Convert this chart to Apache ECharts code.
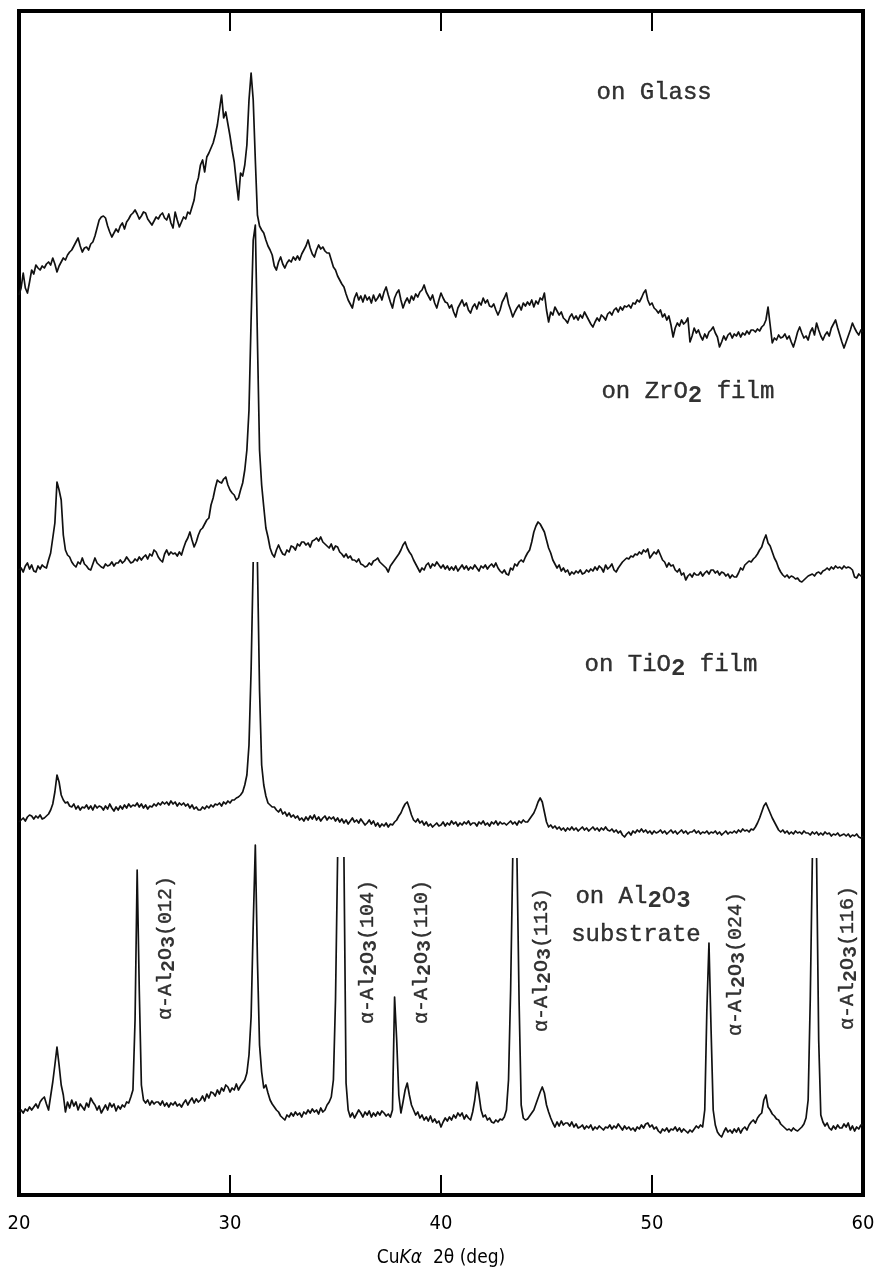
<!DOCTYPE html>
<html>
<head>
<meta charset="utf-8">
<script src="https://cdn.jsdelivr.net/npm/echarts@6/dist/echarts.min.js"></script>
<style>
  html, body { margin: 0; padding: 0; background: #fff; }
  #chart { width: 879px; height: 1269px; }
</style>
</head>
<body>
<div id="chart"></div>
<script>
// X-ray diffraction scans (Cu Kα), 2θ = 20°…60° in 0.1° steps.
// Each scan holds the intensity above its own baseline; '-' marks a pen lift
// where the recorder went off scale on a strong reflection.

const scanStart = 20;
const scanStep = 0.1;
const xTicks = [20, 30, 40, 50, 60];

const glass = [
  55, 62, 77, 62, 57, 68, 80, 76, 85, 82,
  80, 84, 82, 86, 88, 85, 92, 86, 78, 84,
  88, 92, 90, 95, 98, 100, 104, 108, 112, 104,
  98, 102, 103, 100, 106, 108, 114, 122, 130, 133,
  134, 132, 124, 118, 113, 117, 121, 118, 124, 127,
  121, 128, 131, 135, 137, 140, 136, 131, 134, 138,
  137, 131, 128, 125, 129, 133, 131, 135, 137, 132,
  130, 136, 127, 122, 138, 130, 123, 128, 133, 131,
  138, 136, 143, 150, 165, 172, 185, 190, 178, 193,
  197, 202, 207, 215, 225, 240, 255, 232, 238, 226,
  214, 200, 188, 168, 150, 177, 174, 185, 205, 250,
  277, 250, 190, 135, 124, 120, 117, 110, 104, 100,
  95, 84, 80, 88, 93, 86, 82, 87, 90, 88,
  93, 90, 94, 90, 96, 100, 104, 110, 102, 96,
  93, 100, 105, 101, 103, 99, 97, 97, 90, 83,
  80, 74, 70, 66, 63, 56, 50, 46, 42, 52,
  57, 50, 54, 48, 55, 50, 53, 47, 55, 49,
  52, 56, 50, 58, 63, 55, 48, 42, 52, 57,
  60, 50, 42, 48, 52, 47, 54, 50, 56, 53,
  58, 60, 65, 58, 54, 50, 55, 47, 42, 50,
  57, 52, 48, 47, 42, 45, 38, 33, 42, 46,
  50, 44, 47, 40, 37, 43, 46, 41, 48, 45,
  52, 47, 50, 44, 43, 46, 40, 35, 40, 48,
  52, 57, 46, 40, 33, 38, 42, 45, 40, 47,
  44, 48, 45, 50, 43, 49, 46, 52, 50, 57,
  40, 28, 38, 35, 43, 39, 35, 38, 32, 30,
  27, 33, 36, 31, 34, 30, 35, 32, 38, 34,
  30, 26, 23, 28, 32, 29, 35, 33, 30, 36,
  38, 35, 40, 42, 38, 43, 40, 44, 43, 45,
  42, 47, 46, 50, 48, 52, 57, 60, 50, 45,
  47, 42, 40, 37, 40, 33, 36, 30, 34, 25,
  13, 22, 27, 24, 30, 26, 28, 32, 8, 14,
  22, 17, 20, 14, 10, 16, 12, 18, 20, 23,
  17, 13, 3, 8, 14, 10, 15, 17, 12, 16,
  14, 18, 13, 17, 15, 19, 16, 20, 20, 18,
  21, 19, 23, 25, 30, 43, 25, 7, 12, 10,
  15, 12, 13, 16, 11, 14, 8, 3, 10, 18,
  23, 17, 12, 14, 10, 18, 22, 15, 27, 20,
  14, 10, 15, 18, 14, 22, 26, 30, 22, 15,
  8, 2, 8, 14, 20, 27, 22, 18, 15, 20,
  18
];

const zro2 = [
  20, 22, 18, 24, 27, 21, 25, 19, 18, 24,
  21, 25, 23, 22, 30, 37, 52, 67, 108, 100,
  90, 55, 40, 35, 33, 28, 25, 23, 28, 26,
  32, 26, 24, 21, 20, 26, 32, 27, 25, 23,
  22, 26, 24, 25, 28, 24, 27, 27, 30, 27,
  29, 33, 30, 27, 28, 31, 29, 33, 30, 33,
  35, 31, 36, 34, 40, 38, 33, 30, 28, 36,
  40, 35, 38, 36, 37, 34, 38, 35, 42, 48,
  52, 58, 50, 43, 48, 55, 60, 62, 66, 70,
  72, 85, 92, 102, 110, 108, 107, 111, 113, 105,
  100, 97, 95, 90, 92, 100, 107, 120, 140, 180,
  270, 350, 365, 250, 140, 105, 83, 62, 53, 42,
  36, 33, 40, 45, 40, 36, 35, 40, 38, 44,
  43, 40, 46, 44, 48, 48, 45, 47, 43, 49,
  50, 52, 49, 53, 48, 46, 44, 42, 46, 40,
  44, 43, 38, 36, 33, 36, 32, 34, 30, 30,
  28, 31, 26, 25, 23, 24, 27, 25, 29, 30,
  32, 28, 26, 24, 22, 18, 24, 27, 30, 33,
  36, 40, 45, 48, 42, 38, 35, 30, 26, 22,
  18, 22, 20, 25, 27, 22, 26, 24, 28, 25,
  22, 25, 21, 24, 20, 23, 20, 24, 19, 22,
  25, 21, 24, 20, 23, 21, 25, 22, 19, 24,
  22, 25, 21, 24, 26, 23, 27, 22, 19, 17,
  20, 16, 15, 22, 20, 26, 24, 28, 30, 28,
  33, 37, 40, 48, 58, 64, 68, 66, 62, 58,
  50, 42, 37, 30, 26, 22, 25, 19, 22, 18,
  20, 15, 18, 16, 19, 17, 20, 16, 17, 20,
  18, 21, 19, 23, 20, 24, 22, 18, 25, 21,
  23, 26, 20, 18, 22, 25, 28, 30, 32, 31,
  34, 33, 36, 35, 38, 36, 40, 38, 41, 32,
  35, 38, 36, 40, 35, 30, 28, 23, 27, 24,
  25, 20, 18, 21, 15, 17, 10, 14, 16, 13,
  17, 15, 15, 18, 14, 17, 19, 16, 20, 20,
  17, 19, 15, 18, 17, 14, 16, 12, 15, 13,
  13, 17, 22, 20, 25, 27, 29, 28, 31, 33,
  36, 40, 43, 50, 55, 47, 44, 38, 32, 28,
  22, 18, 15, 13, 15, 12, 14, 13, 11, 12,
  9, 8, 10, 12, 14, 15, 16, 14, 17, 18,
  16, 19, 20, 22, 20, 23, 21, 24, 22, 23,
  21, 24, 22, 23, 22, 20, 13, 12, 16, 14,
  15
];

const tio2 = [
  18, 20, 22, 19, 23, 25, 24, 21, 24, 22,
  25, 21, 22, 24, 26, 30, 36, 48, 65, 58,
  45, 40, 37, 38, 34, 33, 36, 31, 34, 30,
  33, 32, 35, 31, 34, 30, 35, 32, 34, 33,
  30, 34, 31, 36, 32, 29, 33, 30, 34, 31,
  35, 32, 36, 33, 35, 34, 37, 33, 36, 32,
  35, 31, 34, 33, 36, 34, 37, 35, 38, 36,
  38, 35, 39, 36, 38, 34, 37, 35, 37, 34,
  36, 32, 35, 31, 33, 30, 30, 33, 31, 34,
  32, 35, 33, 36, 35, 37, 34, 38, 36, 39,
  37, 40, 40, 42, 43, 45, 48, 55, 65, 95,
  170, 278, '-', 278, 150, 75, 55, 44, 37, 35,
  33, 33, 30, 28, 31, 26, 28, 24, 27, 23,
  25, 22, 24, 20, 22, 19, 23, 20, 24, 21,
  25, 20, 23, 19, 22, 24, 20, 23, 21, 23,
  19, 22, 18, 21, 17, 20, 16, 19, 22, 18,
  20, 17, 21, 18, 15, 17, 20, 16, 19, 14,
  17, 13, 16, 14, 17, 13, 16, 15, 18, 20,
  24, 27, 32, 36, 38, 32, 25, 20, 18, 21,
  17, 19, 15, 18, 14, 16, 13, 15, 17, 14,
  15, 18, 14, 17, 15, 19, 16, 18, 14, 17,
  15, 18, 16, 19, 15, 17, 17, 14, 18, 16,
  19, 15, 17, 14, 18, 16, 19, 15, 18, 16,
  17, 15, 17, 19, 16, 18, 15, 19, 17, 20,
  18, 18, 21, 24, 27, 32, 38, 42, 38, 28,
  18, 13, 15, 12, 14, 11, 13, 10, 12, 9,
  12, 10, 13, 10, 12, 9, 11, 13, 10, 12,
  9, 11, 13, 10, 12, 9, 12, 10, 13, 10,
  9, 11, 8, 10, 7, 9, 5, 3, 6, 8,
  5, 9, 7, 10, 8, 11, 8, 10, 7, 9,
  6, 9, 7, 8, 10, 7, 9, 6, 8, 10,
  7, 9, 6, 8, 10, 7, 9, 6, 8, 8,
  10, 7, 9, 6, 8, 7, 9, 6, 8, 7,
  9, 6, 8, 5, 7, 9, 6, 8, 7, 9,
  7, 10, 8, 11, 9, 10, 8, 11, 10, 13,
  17, 22, 28, 34, 37, 32, 27, 22, 18, 14,
  10, 8, 10, 7, 9, 6, 8, 6, 9, 7,
  8, 6, 9, 7, 7, 5, 8, 6, 8, 5,
  7, 5, 8, 6, 7, 4, 6, 5, 7, 4,
  5, 6, 4, 6, 3, 5, 4, 6, 3, 2,
  4
];

const al2o3 = [
  28, 30, 27, 31, 29, 33, 30, 33, 36, 32,
  38, 41, 43, 36, 30, 44, 58, 75, 93, 75,
  55, 45, 28, 38, 32, 40, 34, 38, 30, 36,
  33, 30, 37, 33, 42, 38, 35, 30, 34, 27,
  31, 35, 30, 37, 33, 36, 29, 34, 31, 35,
  33, 38, 37, 43, 50, 120, 270, 150, 55, 40,
  37, 40, 35, 39, 36, 38, 38, 35, 39, 34,
  37, 33, 37, 35, 38, 34, 36, 33, 37, 40,
  35, 39, 42, 37, 41, 38, 40, 44, 39, 46,
  42, 48, 47, 44, 50, 46, 52, 49, 55, 53,
  48, 52, 50, 56, 50, 54, 57, 60, 67, 85,
  123, 215, 295, 180, 95, 68, 52, 55, 47, 40,
  36, 33, 30, 28, 24, 22, 20, 25, 23, 27,
  24, 28, 25, 27, 23, 28, 26, 30, 27, 31,
  28, 30, 26, 32, 28, 30, 35, 38, 43, 60,
  140, 283, '-', '-', 283, 57, 30, 23, 27, 22,
  26, 30, 27, 23, 28, 25, 29, 23, 27, 24,
  28, 25, 29, 27, 24, 26, 23, 30, 143, 100,
  45, 27, 38, 50, 57, 45, 35, 30, 25, 28,
  22, 25, 20, 23, 19, 24, 18, 21, 17, 19,
  13, 18, 22, 19, 23, 20, 25, 22, 27, 24,
  27, 21, 25, 22, 20, 28, 40, 58, 45, 30,
  23, 25, 20, 22, 18, 17, 20, 18, 21, 20,
  23, 30, 60, 150, 282, '-', 282, 140, 35, 22,
  20, 21, 24, 27, 30, 36, 42, 48, 53, 47,
  35, 28, 22, 17, 13, 18, 14, 19, 15, 17,
  17, 14, 18, 13, 16, 12, 13, 15, 11, 14,
  12, 15, 10, 13, 11, 14, 12, 10, 13, 12,
  15, 11, 14, 12, 16, 13, 10, 14, 11, 13,
  10, 12, 9, 13, 11, 15, 12, 16, 17, 13,
  15, 11, 13, 9, 7, 11, 9, 12, 8, 11,
  10, 13, 9, 12, 8, 11, 9, 7, 10, 8,
  11, 14, 12, 15, 13, 30, 130, 197, 110, 30,
  15, 8, 5, 3, 8, 12, 8, 10, 7, 11,
  8, 12, 7, 11, 13, 10, 15, 18, 20, 17,
  22, 25, 27, 40, 45, 33, 30, 26, 24, 21,
  20, 16, 14, 12, 10, 11, 9, 12, 10, 9,
  11, 13, 16, 22, 40, 140, 282, '-', 282, 100,
  25, 18, 14, 17, 12, 10, 14, 11, 15, 12,
  12, 16, 13, 17, 10, 14, 9, 13, 11, 15,
  15
];

// Stacking of the four scans on the shared intensity axis (baseline of each).
const patternNames = ['on Glass', 'on ZrO2 film', 'on TiO2 film', 'on Al2O3 substrate'];
const patternData = [glass, zro2, tio2, al2o3];
const baselines = [845, 605, 355, 55];

// Annotation texts; {s|..} marks a subscript.
const sampleLabels = [
  { text: 'on Glass', at: [50.1, 1102] },
  { text: 'on ZrO{s|2} film', at: [51.7, 803] },
  { text: 'on TiO{s|2} film', at: [50.9, 530] },
  { text: 'on Al{s|2}O{s|3}', at: [49.1, 298] },
  { text: 'substrate', at: [49.24, 260] }
];
const reflectionLabels = [
  { text: 'α-Al{s|2}O{s|3}(012)', at: [26.97, 247] },
  { text: 'α-Al{s|2}O{s|3}(104)', at: [36.54, 243] },
  { text: 'α-Al{s|2}O{s|3}(110)', at: [39.1, 243] },
  { text: 'α-Al{s|2}O{s|3}(113)', at: [44.79, 235] },
  { text: 'α-Al{s|2}O{s|3}(024)', at: [53.98, 231] },
  { text: 'α-Al{s|2}O{s|3}(116)', at: [59.29, 237] }
];

const MONO = "'Liberation Mono', 'DejaVu Sans Mono', monospace";
const SANS = "'DejaVu Sans Condensed', 'DejaVu Sans', sans-serif";
const INK = '#000';

// wrap plain runs as {t|..} so every fragment of the label uses rich styles
function richText(str) {
  const out = [];
  const re = /\{s\|([^}]*)\}/g;
  let last = 0, m;
  while ((m = re.exec(str)) !== null) {
    if (m.index > last) out.push('{t|' + str.slice(last, m.index) + '}');
    out.push('{s|' + m[1] + '}');
    last = re.lastIndex;
  }
  if (last < str.length) out.push('{t|' + str.slice(last) + '}');
  return out.join('');
}

function richStyles(size, subSize, lineH, subH) {
  return {
    t: {
      fontFamily: MONO, fontSize: size, color: INK, lineHeight: lineH, verticalAlign: 'middle',
      textBorderColor: INK, textBorderWidth: 0.4
    },
    s: {
      fontFamily: MONO, fontSize: subSize, color: INK, lineHeight: subH, verticalAlign: 'bottom',
      fontWeight: 'bold'
    }
  };
}

const lineSeries = patternData.map((vals, i) => ({
  name: patternNames[i],
  type: 'line',
  data: vals.map((v, k) => {
    const x = +(scanStart + k * scanStep).toFixed(1);
    return v === '-' ? [x, '-'] : [x, v + baselines[i]];
  }),
  showSymbol: false,
  connectNulls: false,
  silent: true,
  lineStyle: { color: '#111', width: 1.7, join: 'round' },
  z: 3
}));

const labelSeries = {
  type: 'scatter',
  silent: true,
  symbolSize: 0,
  z: 5,
  data: sampleLabels.map(l => ({
    value: l.at,
    label: {
      show: true, position: 'inside',
      formatter: richText(l.text),
      rich: richStyles(24, 24, 32, 20)
    }
  })).concat(reflectionLabels.map(l => ({
    value: l.at,
    label: {
      show: true, position: 'inside', rotate: 90,
      formatter: richText(l.text),
      rich: richStyles(20, 20, 26, 16)
    }
  })))
};

const chart = echarts.init(document.getElementById('chart'), null, { renderer: 'canvas' });
chart.setOption({
  animation: false,
  backgroundColor: '#fff',
  grid: {
    left: 19, right: 16, top: 11, bottom: 74,
    outerBoundsMode: 'none',
    containLabel: false,
    show: true, borderColor: '#000', borderWidth: 4, backgroundColor: 'transparent'
  },
  xAxis: [
    {
      type: 'value', min: xTicks[0], max: xTicks[xTicks.length - 1], interval: 10,
      position: 'bottom',
      axisLine: { show: false },
      axisTick: { show: true, inside: true, length: 20, lineStyle: { color: '#000', width: 2 } },
      axisLabel: { show: true, margin: 19, fontFamily: SANS, fontSize: 20, color: INK },
      splitLine: { show: false },
      name: '{r|Cu}{i|Kα}{r|  2θ (deg)}',
      nameLocation: 'middle', nameGap: 54,
      nameTextStyle: {
        rich: {
          r: { fontFamily: SANS, fontSize: 19, color: INK },
          i: { fontFamily: SANS, fontSize: 19, color: INK, fontStyle: 'italic' }
        }
      }
    },
    {
      type: 'value', min: xTicks[0], max: xTicks[xTicks.length - 1], interval: 10,
      position: 'top',
      axisLine: { show: false },
      axisTick: { show: true, inside: true, length: 20, lineStyle: { color: '#000', width: 2 } },
      axisLabel: { show: false },
      splitLine: { show: false }
    }
  ],
  yAxis: {
    type: 'value', min: 0, max: 1184,
    axisLine: { show: false }, axisTick: { show: false },
    axisLabel: { show: false }, splitLine: { show: false }
  },
  series: lineSeries.concat([labelSeries])
});
</script>
</body>
</html>
